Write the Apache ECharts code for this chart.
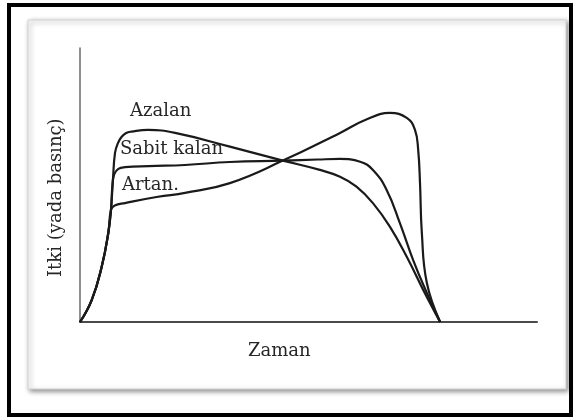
<!DOCTYPE html>
<html><head><meta charset="utf-8">
<script src="https://cdn.jsdelivr.net/npm/echarts@6/dist/echarts.min.js"></script>
<style>html,body{margin:0;padding:0;background:#fff}#c{width:575px;height:419px}</style>
</head><body><div id="c"></div>
<script>
// Time (x) and thrust (y) readings for each curve, arbitrary units 0-100
const azalanX = [0, 2.56, 4.75, 6.19, 6.78, 7.2, 7.66, 8.3, 9.12, 10.1, 11.3, 14.9, 20.8, 32.8, 44.4, 52.5, 56.9, 60.5, 64.1, 67.8, 71.5, 75.1, 78.8];
const azalanY = [0, 8.0, 20.2, 32.5, 40.9, 51.8, 61.7, 65.3, 67.6, 69.0, 69.5, 70.1, 69.0, 64.0, 58.9, 55.5, 53.0, 49.4, 43.4, 34.8, 23.8, 11.7, 0];
const sabitX = [0, 2.56, 4.75, 6.19, 6.78, 7.1, 7.5, 8.4, 9.85, 15, 22.98, 32.8, 44.4, 52, 56.9, 61.3, 64.1, 67.1, 70.0, 72.9, 75.9, 78.8];
const sabitY = [0, 8.0, 20.2, 32.5, 40.9, 50.0, 54.0, 55.9, 56.5, 56.9, 57.3, 58.4, 58.9, 59.3, 59.5, 58.5, 55.5, 48.2, 36.1, 22.6, 10.6, 0];
const artanX = [0, 2.56, 4.75, 6.19, 6.78, 7.6, 9.85, 17.07, 22.98, 32.8, 44.4, 56.9, 62.4, 67.8, 71.5, 73.3, 74.0, 74.4, 74.8, 75.9, 78.8];
const artanY = [0, 8.0, 20.2, 32.5, 40.9, 42.5, 43.4, 45.7, 47.1, 50.7, 58.9, 69.0, 73.7, 76.3, 74.5, 70.1, 62.8, 50.7, 32.5, 14.2, 0];
const seriesNames = ['Azalan', 'Sabit kalan', 'Artan'];
const curveLabels = ['Azalan', 'Sabit kalan', 'Artan.'];
const xTitle = 'Zaman';
const yTitle = 'Itki (yada basınç)';

const zip = (xs, ys) => xs.map((x, i) => [x, ys[i]]);
const FONT = 'DejaVu Serif';
const TXT = '#262626';

const chart = echarts.init(document.getElementById('c'), null, {renderer: 'canvas'});
const lineSeries = (name, data) => ({
  name, type: 'line', data, smooth: 0.45, showSymbol: false,
  lineStyle: {color: '#1a1a1a', width: 2.2}, z: 3, animation: false
});
chart.setOption({
  animation: false,
  backgroundColor: '#ffffff',
  grid: {left: 80, right: 38, top: 48, bottom: 97},
  xAxis: {type: 'value', min: 0, max: 100,
    axisLine: {show: true, onZero: false, lineStyle: {color: '#4a4a4a', width: 2}},
    axisTick: {show: false}, axisLabel: {show: false}, splitLine: {show: false}},
  yAxis: {type: 'value', min: 0, max: 100,
    axisLine: {show: true, onZero: false, lineStyle: {color: '#6a6a6a', width: 1.5}},
    axisTick: {show: false}, axisLabel: {show: false}, splitLine: {show: false}},
  series: [
    lineSeries(seriesNames[0], zip(azalanX, azalanY)),
    lineSeries(seriesNames[1], zip(sabitX, sabitY)),
    lineSeries(seriesNames[2], zip(artanX, artanY))
  ],
  graphic: [
    {type: 'rect', z: -20, silent: true, shape: {x: 9, y: 5, width: 562, height: 410},
      style: {fill: '#ffffff', stroke: '#000000', lineWidth: 4}},
    {type: 'rect', z: -10, silent: true, shape: {x: 28, y: 20, width: 538, height: 369},
      style: {fill: '#ffffff', stroke: '#d4d4d4', lineWidth: 1,
        shadowColor: 'rgba(0,0,0,0.45)', shadowBlur: 5, shadowOffsetX: 2, shadowOffsetY: 2}},
    {type: 'text', z: 5, left: 130, top: 102, style: {text: curveLabels[0], font: '18px "' + FONT + '"', fill: TXT}},
    {type: 'text', z: 5, left: 120, top: 140, style: {text: curveLabels[1], font: '18px "' + FONT + '"', fill: TXT}},
    {type: 'text', z: 5, left: 122, top: 176, style: {text: curveLabels[2], font: '18px "' + FONT + '"', fill: TXT}},
    {type: 'text', z: 5, left: 248, top: 342, style: {text: xTitle, font: '18px "' + FONT + '"', fill: TXT}},
    {type: 'text', z: 5, x: 47, y: 277, rotation: Math.PI / 2, style: {text: yTitle, font: '18px "' + FONT + '"', fill: TXT}}
  ]
});
</script></body></html>
